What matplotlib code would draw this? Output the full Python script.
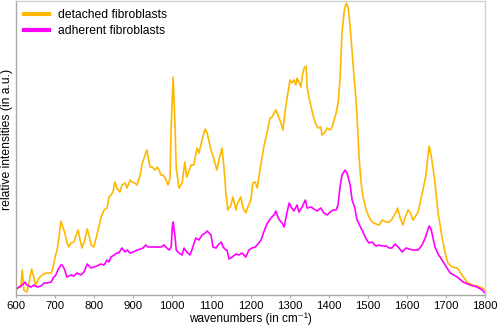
import matplotlib
matplotlib.use("Agg")
import matplotlib.pyplot as plt
from matplotlib import rcParams

rcParams['font.family'] = ['Liberation Sans', 'DejaVu Sans']

# Raman spectra (wavenumber in cm-1, intensity in a.u.)
detached_x = [600, 608, 612, 616, 620, 628, 633, 640, 646, 650, 659, 667, 677, 684, 690,
              695, 700, 705, 710, 715, 718, 725, 730, 735, 741, 748, 756, 759, 764, 769,
              776, 782, 787, 792, 799, 805, 812, 817, 825, 833, 838, 843, 848, 853, 858,
              866, 871, 879, 884, 892, 897, 904, 910, 918, 922, 930, 935, 938, 943, 948,
              956, 961, 966, 971, 976, 982, 989, 994, 997, 1002, 1007, 1010, 1017, 1025,
              1032, 1037, 1048, 1055, 1063, 1068, 1076, 1084, 1089, 1099, 1107, 1114, 1119,
              1127, 1132, 1137, 1142, 1150, 1155, 1163, 1165, 1175, 1181, 1188, 1193, 1201,
              1206, 1212, 1217, 1227, 1234, 1242, 1250, 1255, 1265, 1270, 1278, 1283, 1288,
              1294, 1301, 1306, 1311, 1316, 1319, 1324, 1329, 1332, 1337, 1342, 1345, 1350,
              1355, 1362, 1368, 1373, 1380, 1383, 1391, 1396, 1404, 1409, 1414, 1419, 1424,
              1429, 1434, 1440, 1445, 1450, 1455, 1460, 1465, 1470, 1474, 1478, 1483, 1488,
              1496, 1503, 1511, 1521, 1529, 1537, 1547, 1555, 1562, 1573, 1576, 1583, 1590,
              1595, 1603, 1608, 1616, 1624, 1629, 1634, 1641, 1649, 1652, 1657, 1662, 1667,
              1672, 1680, 1690, 1698, 1705, 1716, 1729, 1741, 1754, 1767, 1780, 1793, 1800]
detached_y = [5, 8, 8, 25, 5, 3, 12, 26, 17, 10, 17, 20, 22, 22, 22,
              28, 38, 45, 58, 74, 70, 62, 53, 48, 52, 53, 62, 65, 55, 47,
              55, 66, 60, 50, 48, 57, 68, 77, 85, 87, 98, 100, 103, 113, 107,
              103, 110, 112, 107, 115, 113, 112, 110, 120, 130, 140, 145, 138, 128, 128,
              125, 128, 125, 120, 120, 117, 110, 117, 168, 218, 168, 127, 107, 112,
              133, 118, 130, 130, 147, 142, 155, 166, 162, 145, 135, 125, 135,
              147, 128, 102, 85, 90, 98, 85, 90, 98, 87, 82, 88, 95,
              112, 113, 107, 132, 148, 162, 177, 178, 185, 180, 172, 165, 182,
              198, 215, 212, 215, 210, 217, 213, 208, 218, 227, 229, 208, 197,
              188, 177, 170, 167, 168, 160, 163, 167, 165, 168, 175, 182, 192,
              215, 262, 285, 292, 287, 268, 243, 218, 195, 168, 137, 112, 98,
              85, 78, 73, 71, 70, 75, 73, 73, 76, 83, 87, 77, 70,
              77, 85, 83, 75, 80, 83, 92, 105, 120, 132, 149, 140, 127,
              112, 82, 58, 42, 32, 28, 27, 20, 13, 10, 9, 7, 5]

adherent_x = [600, 608, 616, 623, 628, 638, 646, 654, 664, 672, 679, 690, 695, 702, 707,
              715, 718, 725, 730, 741, 748, 756, 766, 774, 782, 792, 799, 807, 817, 825,
              833, 838, 843, 851, 858, 863, 871, 879, 884, 892, 900, 910, 918, 925, 932,
              938, 946, 953, 961, 971, 979, 986, 992, 997, 1000, 1002, 1007, 1010, 1017,
              1025, 1030, 1037, 1045, 1050, 1060, 1068, 1076, 1084, 1089, 1099, 1104, 1112,
              1117, 1125, 1130, 1137, 1140, 1145, 1153, 1163, 1170, 1178, 1188, 1196, 1204,
              1212, 1217, 1227, 1234, 1242, 1252, 1260, 1265, 1270, 1276, 1281, 1286, 1293,
              1299, 1304, 1311, 1319, 1324, 1332, 1340, 1345, 1355, 1362, 1370, 1380, 1388,
              1396, 1404, 1411, 1419, 1424, 1429, 1434, 1442, 1447, 1455, 1460, 1467, 1472,
              1480, 1488, 1496, 1503, 1511, 1521, 1529, 1537, 1547, 1555, 1562, 1570, 1578,
              1588, 1598, 1606, 1614, 1624, 1629, 1639, 1647, 1652, 1657, 1662, 1667, 1672,
              1680, 1690, 1698, 1711, 1729, 1744, 1762, 1780, 1793, 1800]
adherent_y = [6, 8, 10, 13, 10, 8, 10, 8, 9, 12, 12, 13, 17, 20, 25,
              30, 30, 25, 18, 20, 19, 22, 20, 23, 31, 27, 28, 29, 31, 30,
              35, 33, 38, 40, 42, 42, 47, 43, 45, 42, 43, 45, 46, 47, 50,
              48, 48, 48, 48, 48, 50, 47, 45, 48, 68, 73, 58, 45, 42,
              40, 47, 43, 40, 45, 57, 55, 60, 62, 64, 60, 48, 47,
              50, 53, 48, 45, 45, 36, 38, 41, 40, 42, 38, 45, 47,
              48, 50, 55, 63, 71, 77, 80, 84, 78, 74, 72, 68, 82,
              92, 88, 84, 90, 83, 88, 95, 87, 88, 86, 84, 87, 82,
              80, 83, 85, 85, 90, 108, 120, 125, 122, 110, 95, 87, 76,
              69, 63, 56, 52, 53, 49, 50, 49, 49, 47, 47, 51, 48,
              43, 47, 46, 45, 45, 45, 50, 57, 63, 69, 66, 57, 48,
              41, 35, 30, 22, 18, 13, 10, 8, 5, 2]

x_ticks = [600, 700, 800, 900, 1000, 1100, 1200, 1300, 1400, 1500, 1600, 1700, 1800]

fig = plt.figure(figsize=(5.0, 3.29), dpi=100)
ax = fig.add_axes([0.032, 0.1033, 0.938, 0.8936])

ax.plot(detached_x, detached_y, color='#FFB800', lw=1.2, label='detached fibroblasts')
ax.plot(adherent_x, adherent_y, color='#FF00FF', lw=1.2, label='adherent fibroblasts')

ax.set_xlim(600, 1800)
ax.set_ylim(0, 294)
ax.set_xticks(x_ticks)
ax.set_yticks([])
ax.tick_params(axis='x', direction='out', length=2, width=0.8, color='#b0b0b0',
               labelsize=8.2, pad=2.5)

for side in ['left', 'bottom']:
    ax.spines[side].set_color('#a8a8a8')
    ax.spines[side].set_linewidth(1.0)
for side in ['top', 'right']:
    ax.spines[side].set_color('#d0d0d0')
    ax.spines[side].set_linewidth(1.0)

ax.set_xlabel('wavenumbers (in cm\u207b\u00b9)', fontsize=8.5)
ax.set_ylabel('relative intensities (in a.u.)', fontsize=8.7)
ax.xaxis.set_label_coords(0.5, -0.058)
ax.yaxis.set_label_coords(-0.006, 0.53)

leg = ax.legend(loc='upper left', frameon=False, fontsize=8.7, handlelength=2.0,
                handletextpad=0.8, labelspacing=0.3, borderaxespad=0.3,
                bbox_to_anchor=(0.0, 1.0))
for line in leg.get_lines():
    line.set_linewidth(3)

fig.savefig('out.png', dpi=100)
